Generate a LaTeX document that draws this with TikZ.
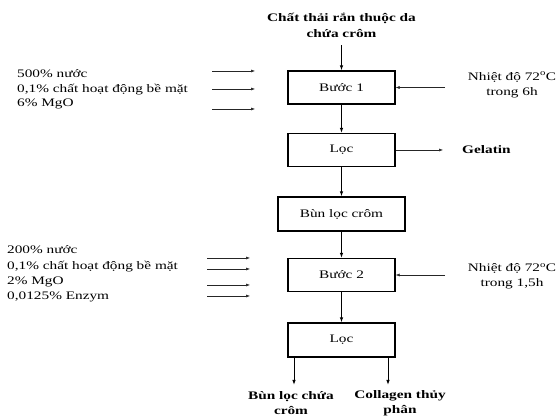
\documentclass[tikz,border=0pt]{standalone}
\usepackage{fontspec}
\setmainfont{Liberation Serif}[FakeStretch=1.33]
\usetikzlibrary{arrows.meta}

\tikzset{
  stepbox/.style={draw, line width=1.2pt, minimum width=107pt, minimum height=33pt,
    inner sep=0pt, font=\fontsize{11.5}{15}\selectfont},
  flow/.style={-{Latex[length=5pt,width=3.5pt]}, line width=0.9pt},
  feed/.style={-{Latex[length=4pt,width=3pt]}, line width=0.5pt, black!85},
  txt/.style={inner sep=0pt, font=\fontsize{11.5}{15}\selectfont},
  btxt/.style={inner sep=0pt, align=center, font=\fontsize{11.5}{15}\selectfont\bfseries},
}

\begin{document}
\begin{tikzpicture}[x=1pt, y=-1pt]
  \useasboundingbox (0,0) rectangle (558,419);

  % Main line
  \node[btxt, font=\fontsize{11.5}{16}\selectfont\bfseries] (waste) at (341.5,25) {Chất thải rắn thuộc da\\chứa crôm};
  \node[stepbox] (buoc1) at (341.5,87.5) {Bước 1};
  \node[stepbox] (loc1) at (341.5,150) {Lọc};
  \node[stepbox, minimum width=127pt, minimum height=34pt] (bun) at (341.5,214) {Bùn lọc crôm};
  \node[stepbox] (buoc2) at (341.5,275) {Bước 2};
  \node[stepbox, minimum height=34pt] (loc2) at (341.5,340) {Lọc};

  \draw[flow, shorten <=8pt] (waste) -- (buoc1);
  \draw[flow] (buoc1) -- (loc1);
  \draw[flow] (loc1) -- (bun);
  \draw[flow] (bun) -- (buoc2);
  \draw[flow] (buoc2) -- (loc2);

  % Products
  \node[btxt] (sludge) at (291,403.5) {Bùn lọc chứa\\crôm};
  \node[btxt] (collagen) at (400,403.5) {Collagen thủy\\phân};
  \coordinate (out1) at (294,385);
  \coordinate (out2) at (388,385);
  \draw[flow] (loc2.south -| out1) -- (out1);
  \draw[flow] (loc2.south -| out2) -- (out2);

  \node[btxt, anchor=west] (gelatin) at (462,150) {Gelatin};
  \draw[feed, shorten >=19pt] (loc1) -- (gelatin);

  % Chemicals in
  \node[txt, align=left, anchor=west, font=\fontsize{11.5}{14.5}\selectfont] (chem1) at (17,89.5)
    {500\% nước\\0,1\% chất hoạt động bề mặt\\6\% MgO};
  \foreach \y [count=\i] in {71,89,109} {
    \coordinate (ina\i) at (212,\y);
    \coordinate (inb\i) at (255,\y);
    \draw[feed] (ina\i) -- (inb\i);
  }

  \node[txt, align=left, anchor=west, font=\fontsize{11.5}{15.3}\selectfont] (chem2) at (7,274)
    {200\% nước\\0,1\% chất hoạt động bề mặt\\2\% MgO\\0,0125\% Enzym};
  \foreach \y [count=\i] in {258,269,285,296} {
    \coordinate (inc\i) at (207,\y);
    \coordinate (ind\i) at (250,\y);
    \draw[feed] (inc\i) -- (ind\i);
  }

  % Heating
  \node[txt, align=center] (heat1) at (512,85) {Nhiệt độ 72\textsuperscript{o}C\\trong 6h};
  \node[txt, align=center] (heat2) at (512,276.5) {Nhiệt độ 72\textsuperscript{o}C\\trong 1,5h};
  \coordinate (h1) at (445,87.5);
  \coordinate (h2) at (445,275);
  \draw[feed] (h1) -- (buoc1);
  \draw[feed] (h2) -- (buoc2);

\end{tikzpicture}
\end{document}
